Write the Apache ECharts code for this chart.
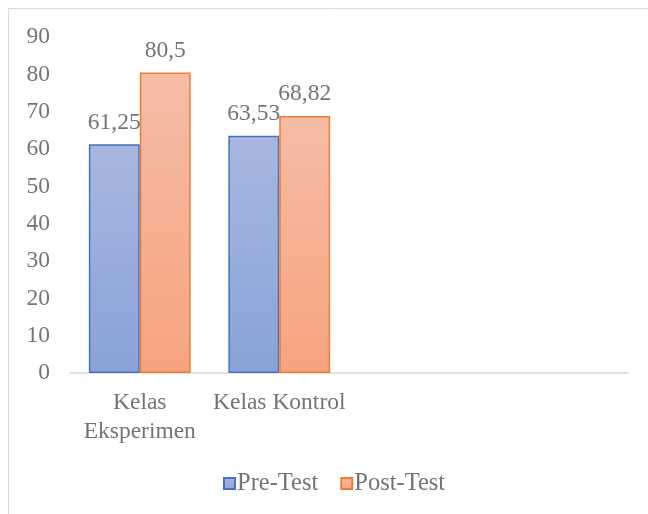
<!DOCTYPE html>
<html lang="en">
<head>
    <meta charset="UTF-8">
    <title></title>
    <script src="https://cdn.jsdelivr.net/npm/echarts@6/dist/echarts.min.js"></script>
    <style>
        html, body { margin: 0; padding: 0; background: #fff; }
    </style>
</head>
<body>
<div id="main" style="width: 648px;height:514px;"></div>

<script type="text/javascript">
    var categories = ['Kelas\nEksperimen', 'Kelas Kontrol', '', ''];
    var preTest = [61.25, 63.53, null, null];
    var postTest = [80.5, 68.82, null, null];
    var yTicks = [0, 10, 20, 30, 40, 50, 60, 70, 80, 90];

    var txt = '#747474';
    var font = '"Liberation Serif", "Times New Roman", serif';
    var fs = 23.5;

    function grad(top, bottom) {
        return new echarts.graphic.LinearGradient(0, 0, 0, 1, [
            {offset: 0, color: top},
            {offset: 1, color: bottom}
        ]);
    }

    function comma(p) {
        return String(p.value).replace('.', ',');
    }

    var myChart = echarts.init(document.getElementById('main'));
    var option = {
        animation: false,
        textStyle: {fontFamily: font},
        graphic: [{
            type: 'rect',
            shape: {x: 8.5, y: 8.5, width: 700, height: 600},
            style: {fill: 'none', stroke: '#d9d9d9', lineWidth: 1},
            silent: true
        }],
        grid: {left: 70, right: 20, top: 37, bottom: 141},
        legend: {
            left: 218,
            top: 466,
            icon: 'rect',
            itemWidth: 11,
            itemHeight: 11,
            itemGap: 22,
            textStyle: {color: txt, fontSize: 24.5, fontFamily: font, padding: [0, 0, 0, -3]},
            data: ['Pre-Test', 'Post-Test']
        },
        xAxis: {
            type: 'category',
            data: categories,
            axisLine: {lineStyle: {color: '#d9d9d9', width: 1.5}},
            axisTick: {show: false},
            axisLabel: {color: txt, fontSize: fs, fontFamily: font, lineHeight: 29, margin: 15, interval: 0}
        },
        yAxis: {
            type: 'value',
            min: yTicks[0],
            max: yTicks[yTicks.length - 1],
            interval: 10,
            splitLine: {show: false},
            axisLine: {show: false},
            axisTick: {show: false},
            axisLabel: {color: txt, fontSize: fs, fontFamily: font, margin: 20}
        },
        series: [{
            name: 'Pre-Test',
            type: 'bar',
            data: preTest,
            barGap: '0%',
            barCategoryGap: '27%',
            itemStyle: {color: grad('#a8b7e0', '#8aa2d8'), borderColor: '#4472c4', borderWidth: 1.5},
            label: {show: true, position: 'top', distance: 10, color: txt, fontSize: fs, fontFamily: font, formatter: comma}
        }, {
            name: 'Post-Test',
            type: 'bar',
            data: postTest,
            itemStyle: {color: grad('#f6bca6', '#f6a47f'), borderColor: '#ed7d31', borderWidth: 1.5},
            label: {show: true, position: 'top', distance: 10, color: txt, fontSize: fs, fontFamily: font, formatter: comma}
        }]
    };
    myChart.setOption(option);
</script>
</body>
</html>
